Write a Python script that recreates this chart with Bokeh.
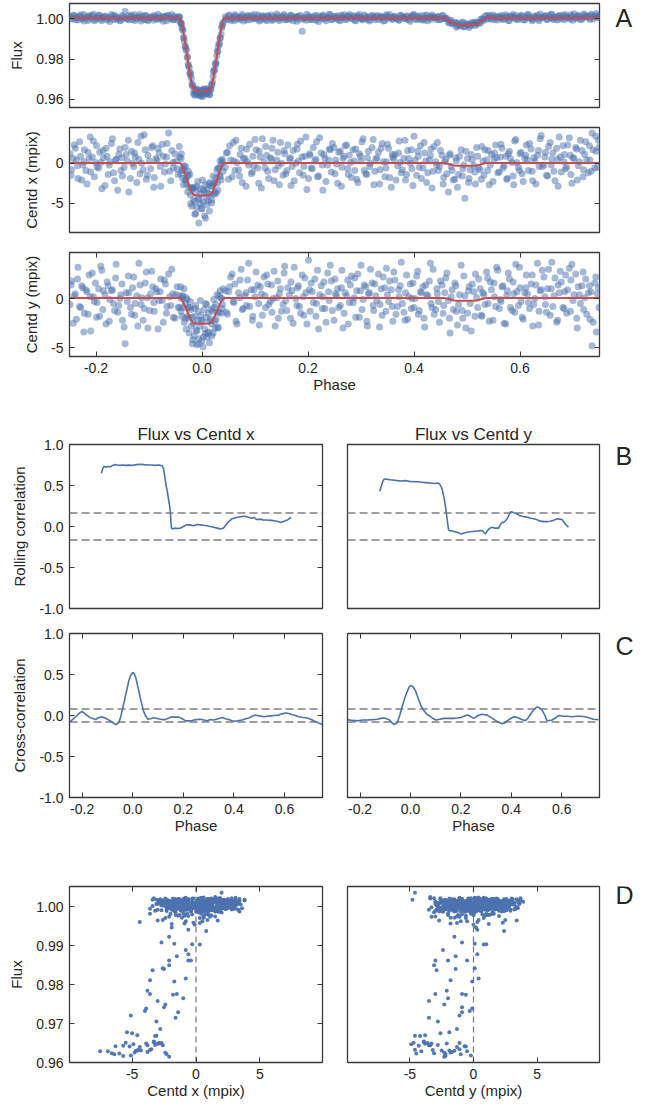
from bokeh.plotting import figure
from bokeh.models import LinearAxis, Range1d, FixedTicker, Span, Label, NumeralTickFormatter
from bokeh.layouts import column, row
from bokeh.embed import file_html
from bokeh.resources import INLINE

# ---------------- data: observations (phase, flux, centroid x, centroid y) ----------------
phase_pre = [-0.249, -0.246, -0.241, -0.237, -0.234, -0.229, -0.225, -0.222, -0.217, -0.213,
             -0.210, -0.205, -0.201, -0.198, -0.193, -0.189, -0.186, -0.181, -0.177, -0.174,
             -0.169, -0.165, -0.162, -0.157, -0.153, -0.150, -0.145, -0.141, -0.138, -0.133,
             -0.129, -0.126, -0.121, -0.117, -0.114, -0.109, -0.105, -0.102, -0.097, -0.093,
             -0.090, -0.085, -0.081, -0.078, -0.073, -0.069, -0.066, -0.061, -0.057, -0.054,
             -0.049, -0.045]
flux_pre = [1.0011, 0.9998, 1.0016, 1.0005, 0.9993, 1.0019, 1.0002, 0.9988, 1.0009, 1.0014,
            0.9999, 1.0022, 0.9996, 1.0007, 1.0015, 0.9990, 1.0004, 1.0010, 1.0001, 0.9986,
            1.0012, 1.0017, 0.9997, 1.0003, 0.9992, 1.0008, 1.0036, 1.0000, 0.9995, 1.0018,
            1.0006, 0.9991, 1.0010, 1.0020, 1.0001, 0.9996, 1.0013, 0.9989, 1.0007, 1.0003,
            1.0015, 0.9997, 1.0002, 1.0011, 0.9987, 1.0009, 1.0014, 1.0000, 1.0021, 0.9994,
            1.0005, 1.0008]
cx_pre = [1.2, -0.8, 2.3, 0.4, -1.9, 0.9, -0.2, 1.7, -2.6, 0.6,
          -1.1, 2.8, 0.1, -0.5, 1.4, -3.2, 0.7, 1.9, -1.4, 0.2,
          3.1, -2.2, 0.5, 1.1, -0.9, -1.6, 2.0, 0.3, -3.6, 1.5,
          -0.4, 0.8, 2.6, -1.3, 0.0, 3.6, -2.0, 1.0, -0.7, 2.2,
          -1.8, 0.4, 1.3, -2.9, 0.9, -0.1, 2.5, -1.0, 1.6, -0.6,
          0.3, -1.4]
cy_pre = [-0.6, 1.8, 0.3, -2.1, 3.2, -0.9, 1.1, -1.5, 0.7, 2.4,
          -3.3, 0.2, 1.6, -0.4, -1.8, 2.9, 0.8, -2.6, 1.3, -0.1,
          0.9, -1.2, 3.5, -0.7, 0.4, -2.2, -4.6, -0.3, 0.6, -1.6,
          2.2, -0.5, -2.8, 1.4, 0.1, -1.0, 2.7, -3.0, 0.5, 1.2,
          -1.3, 0.7, -0.2, 2.0, -2.4, 1.5, -0.8, 0.2, 3.0, -1.9,
          0.4, -0.9]

phase_pre2 = [-0.247, -0.243, -0.239, -0.235, -0.231, -0.227, -0.223, -0.219, -0.215, -0.211,
              -0.207, -0.203, -0.199, -0.195, -0.191, -0.187, -0.183, -0.179, -0.175, -0.171,
              -0.167, -0.163, -0.159, -0.155, -0.151, -0.147, -0.143, -0.139, -0.135, -0.131,
              -0.127, -0.123, -0.119, -0.115, -0.111, -0.107, -0.103, -0.099, -0.095, -0.091,
              -0.087, -0.083, -0.079, -0.075, -0.071, -0.067, -0.063, -0.059, -0.055, -0.051,
              -0.047, -0.043]
flux_pre2 = [1.0004, 1.0017, 0.9994, 1.0009, 1.0012, 0.9998, 1.0021, 1.0006, 0.9991, 1.0010,
             1.0015, 0.9989, 1.0003, 1.0018, 0.9997, 1.0008, 1.0013, 0.9993, 1.0006, 1.0020,
             0.9996, 1.0011, 1.0002, 0.9990, 1.0016, 1.0005, 0.9999, 1.0014, 1.0009, 0.9994,
             1.0019, 1.0001, 1.0007, 0.9988, 1.0012, 1.0017, 0.9995, 1.0004, 1.0010, 0.9992,
             1.0008, 1.0022, 0.9998, 1.0005, 1.0013, 0.9990, 1.0016, 1.0003, 0.9996, 1.0011,
             0.9993, 1.0007]
cx_pre2 = [-1.5, 0.6, 1.9, -0.3, 2.7, -2.1, 0.2, -0.9, 1.4, 3.3,
           0.8, -1.7, 2.2, -0.6, 0.1, 1.6, -2.8, 0.9, -0.2, 2.5,
           -1.2, 0.4, -3.4, 1.8, 0.7, -0.5, 1.1, 2.9, -1.9, 0.0,
           1.3, -2.4, 0.5, 3.4, -0.8, 1.7, -1.5, 0.3, 2.0, -3.0,
           0.6, 1.9, -0.4, 2.4, -1.1, 0.8, 3.8, -2.2, 0.1, 1.2,
           -0.7, 2.1]
cy_pre2 = [1.4, -2.5, 0.5, 2.0, -0.8, 1.3, -3.4, 0.9, -1.6, 0.2,
           2.6, -0.3, -1.9, 1.0, 3.3, -1.1, 0.4, 1.7, -2.3, 0.8,
           -0.5, 2.1, -1.4, 0.0, 1.5, -2.9, 0.6, 2.3, -0.9, 1.1,
           -1.7, 0.3, 3.6, -0.6, -2.2, 1.6, 0.1, -1.2, 2.8, -0.4,
           1.0, -3.1, 0.7, -0.2, 1.9, -1.5, 2.5, -0.7, 0.5, -2.0,
           1.2, 0.3]

phase_in = [-0.042, -0.040, -0.039, -0.038, -0.036, -0.035, -0.034, -0.032, -0.031, -0.030,
            -0.028, -0.027, -0.026, -0.024, -0.023, -0.022, -0.020, -0.019, -0.018, -0.016,
            -0.015, -0.014, -0.012, -0.011, -0.010, -0.008, -0.007, -0.006, -0.004, -0.003,
            -0.002, 0.000, 0.001, 0.002, 0.004, 0.005, 0.006, 0.008, 0.009, 0.010,
            0.012, 0.013, 0.014, 0.016, 0.017, 0.018, 0.020, 0.021, 0.022, 0.024,
            0.025, 0.026, 0.028, 0.029, 0.030, 0.032, 0.033, 0.034, 0.036, 0.037,
            0.038, 0.040]
flux_in = [1.0009, 0.9979, 0.9978, 0.9957, 0.9941, 0.9908, 0.9904, 0.9862, 0.9862, 0.9850,
           0.9808, 0.9811, 0.9776, 0.9758, 0.9729, 0.9732, 0.9705, 0.9678, 0.9669, 0.9631,
           0.9648, 0.9626, 0.9642, 0.9632, 0.9651, 0.9622, 0.9640, 0.9629, 0.9645, 0.9618,
           0.9627, 0.9643, 0.9615, 0.9647, 0.9634, 0.9624, 0.9650, 0.9631, 0.9641, 0.9654,
           0.9630, 0.9644, 0.9623, 0.9649, 0.9650, 0.9675, 0.9686, 0.9715, 0.9739, 0.9749,
           0.9776, 0.9774, 0.9816, 0.9840, 0.9837, 0.9878, 0.9873, 0.9903, 0.9923, 0.9954,
           0.9963, 0.9982]
cx_in = [0.8, -1.3, 1.2, -0.9, -0.6, -2.7, -0.3, -2.1, -0.4, -2.1,
         -1.7, -3.6, -1.5, -3.0, -1.4, -4.0, -3.1, -5.4, -3.1, -4.6,
         -3.0, -4.8, -6.3, -3.6, -5.5, -2.3, -4.4, -7.5, -3.2, -5.1,
         -3.8, -5.7, -2.1, -4.9, -3.5, -6.6, -2.7, -4.3, -5.2, -3.3,
         -4.7, -2.6, -6.0, -3.9, -2.9, -5.0, -2.8, -1.6, -3.9, -2.4,
         -3.6, -1.8, -0.8, -2.5, -3.4, -0.6, -1.5, 0.3, -2.1, -0.1,
         0.5, -1.0]
cy_in = [-0.9, 1.2, 0.0, -1.8, 0.3, -0.9, 1.0, -2.0, -0.5, -3.1,
         -0.1, -1.8, -0.9, -3.5, -0.9, -0.3, -2.8, -1.9, -4.6, -2.5,
         -3.8, -1.8, -0.7, -3.2, -4.7, -2.2, -1.3, -4.1, -2.8, -0.2,
         -1.7, -4.3, -2.3, -4.9, -1.1, -3.1, -3.6, -1.9, -0.6, -3.9,
         -1.5, -3.4, -4.5, -2.1, -1.1, -2.6, -1.3, -3.5, -0.1, -2.3,
         -3.0, -0.6, 0.4, -1.4, -2.9, 0.3, -1.4, 0.8, -1.5, 0.0,
         -1.0, 1.0]

phase_in2 = [-0.0395, -0.0365, -0.0335, -0.0295, -0.0255, -0.0215, -0.0175, -0.0135, -0.0095, -0.0055,
             -0.0015, 0.0025, 0.0065, 0.0105, 0.0145, 0.0185, 0.0225, 0.0265, 0.0305, 0.0345,
             0.0385]
flux_in2 = [0.9975, 0.9947, 0.9889, 0.9842, 0.9765, 0.9721, 0.9668, 0.9621, 0.9649, 0.9633,
            0.9617, 0.9652, 0.9629, 0.9644, 0.9625, 0.9670, 0.9742, 0.9784, 0.9862, 0.9905,
            0.9971]
cx_in2 = [0.6, -1.9, -0.8, -2.6, -1.0, -5.1, -3.2, -6.4, -2.9, -4.5,
          -5.7, -3.3, -6.9, -3.8, -2.4, -4.6, -2.5, -3.8, -0.6, -1.7,
          0.3]
cy_in2 = [-1.3, 0.2, -2.4, 0.1, -2.0, -1.1, -4.2, -1.0, -3.3, -4.6,
          -2.2, -3.9, -0.5, -3.5, -2.3, -3.8, -0.9, -2.1, -3.0, 0.1,
          -0.6]

phase_post = [0.044, 0.048, 0.052, 0.057, 0.060, 0.064, 0.069, 0.072, 0.076, 0.081,
              0.084, 0.088, 0.093, 0.096, 0.100, 0.105, 0.108, 0.112, 0.117, 0.120,
              0.124, 0.129, 0.132, 0.136, 0.141, 0.144, 0.148, 0.153, 0.156, 0.160,
              0.165, 0.168, 0.172, 0.177, 0.180, 0.184, 0.189, 0.192, 0.196, 0.201,
              0.204, 0.208, 0.213, 0.216, 0.220, 0.225, 0.228, 0.232, 0.237, 0.240,
              0.244, 0.249, 0.252, 0.256, 0.261, 0.264, 0.268, 0.273, 0.276, 0.280,
              0.285, 0.288, 0.292, 0.297, 0.300, 0.304, 0.309, 0.312, 0.316, 0.321,
              0.324, 0.328, 0.333, 0.336, 0.340, 0.345, 0.348, 0.352, 0.357, 0.360,
              0.364, 0.369, 0.372, 0.376, 0.381, 0.384, 0.388, 0.393, 0.396, 0.400,
              0.405, 0.408, 0.412, 0.417, 0.420, 0.424, 0.429, 0.432, 0.436, 0.441,
              0.444, 0.448, 0.453, 0.456, 0.460, 0.465, 0.468, 0.472, 0.477, 0.480,
              0.484, 0.489, 0.492, 0.496, 0.501, 0.504, 0.508, 0.513, 0.516, 0.520,
              0.525, 0.528, 0.532, 0.537, 0.540, 0.544, 0.549, 0.552, 0.556, 0.561,
              0.564, 0.568, 0.573, 0.576, 0.580, 0.585, 0.588, 0.592, 0.597, 0.600,
              0.604, 0.609, 0.612, 0.616, 0.621, 0.624, 0.628, 0.633, 0.636, 0.640,
              0.645, 0.648, 0.652, 0.657, 0.660, 0.664, 0.669, 0.672, 0.676, 0.681,
              0.684, 0.688, 0.693, 0.696, 0.700, 0.705, 0.708, 0.712, 0.717, 0.720,
              0.724, 0.729, 0.732, 0.736, 0.741, 0.744, 0.748]
flux_post = [1.0010, 0.9995, 1.0018, 1.0001, 0.9990, 1.0013, 1.0006, 0.9997, 1.0021, 1.0004,
             0.9993, 1.0009, 1.0015, 0.9999, 1.0002, 1.0019, 0.9988, 1.0007, 1.0012, 0.9996,
             1.0016, 1.0003, 0.9991, 1.0010, 1.0023, 0.9998, 1.0005, 1.0014, 0.9994, 1.0008,
             1.0001, 1.0017, 0.9989, 1.0006, 1.0011, 0.9997, 0.9938, 1.0003, 0.9992, 1.0013,
             1.0007, 0.9995, 1.0016, 1.0002, 0.9986, 1.0010, 1.0018, 0.9999, 1.0005, 1.0022,
             0.9994, 1.0009, 1.0001, 1.0014, 0.9990, 1.0006, 1.0019, 0.9997, 1.0011, 1.0003,
             1.0015, 0.9992, 1.0008, 1.0021, 1.0000, 0.9995, 1.0012, 1.0005, 0.9988, 1.0017,
             1.0004, 1.0010, 0.9996, 1.0013, 1.0007, 0.9991, 1.0019, 1.0002, 1.0008, 0.9998,
             1.0012, 1.0001, 0.9993, 1.0016, 1.0006, 0.9999, 1.0011, 0.9987, 1.0009, 1.0020,
             0.9995, 1.0007, 1.0014, 1.0000, 0.9992, 1.0018, 1.0005, 0.9997, 1.0010, 1.0003,
             1.0009, 0.9995, 1.0014, 1.0000, 1.0002, 0.9982, 0.9992, 0.9977, 0.9982, 0.9958,
             0.9977, 0.9965, 0.9983, 0.9961, 0.9972, 0.9956, 0.9974, 0.9980, 0.9966, 0.9981,
             0.9979, 0.9998, 0.9995, 1.0015, 0.9999, 1.0009, 1.0018, 0.9994, 1.0006, 1.0013,
             1.0002, 0.9996, 1.0019, 1.0008, 0.9990, 1.0011, 1.0004, 1.0016, 0.9998, 1.0007,
             1.0013, 0.9993, 1.0005, 1.0021, 1.0001, 0.9996, 1.0010, 1.0017, 0.9989, 1.0006,
             1.0009, 1.0015, 0.9997, 1.0003, 1.0022, 0.9994, 1.0008, 1.0012, 1.0000, 1.0018,
             0.9995, 1.0011, 1.0006, 1.0019, 0.9992, 1.0004, 1.0014, 1.0009, 0.9998, 1.0023,
             1.0007, 1.0013, 0.9996, 1.0018, 1.0010, 1.0025, 1.0005]
cx_post = [-0.5, 1.4, 2.2, -1.7, 0.3, 2.9, -0.8, 1.1, -2.4, 0.6,
           1.8, -0.2, -1.3, 0.9, 3.0, -0.6, 1.5, -3.1, 0.2, 2.1,
           -1.0, 0.7, 1.9, -2.2, 0.4, -0.3, 2.6, -1.5, 1.2, -0.9,
           0.5, -2.8, 1.6, 0.0, 2.4, -1.2, 0.8, -0.4, 3.3, -1.9,
           1.0, -0.7, 0.3, 2.7, -1.6, 1.3, -3.4, 0.6, -0.2, 1.8,
           -1.1, 2.0, 0.4, -2.5, 1.5, -0.5, 0.9, 2.3, -1.4, 0.1,
           1.7, -0.9, -2.0, 1.2, 0.3, 3.1, -1.3, 0.7, -0.4, 2.0,
           -2.7, 0.5, 1.4, -0.8, 2.5, -1.7, 0.2, 1.9, -3.0, 0.8,
           1.1, -0.3, 2.8, -1.2, 0.6, -2.1, 1.6, 0.0, -0.7, 3.4,
           -1.5, 0.9, 2.2, -0.6, 1.3, -2.4, 0.4, 1.8, -1.0, 0.2,
           2.6, -0.4, 1.0, -1.8, 0.5, -3.6, 1.2, -0.9, -2.0, 0.3,
           -1.4, 1.7, -0.7, -4.4, 0.6, -1.9, 1.1, -0.3, -2.6, 0.9,
           -0.8, 2.1, -1.5, 0.4, 1.6, -0.2, -2.3, 1.3, 0.7, -1.1,
           2.4, -0.6, 0.9, -1.9, 1.5, 0.1, -2.7, 3.0, -0.5, 1.2,
           -1.3, 0.6, 2.3, -0.9, 1.8, -2.2, 0.3, 1.0, -0.4, 3.5,
           -0.2, 1.4, -1.6, 2.6, 0.5, -1.0, 1.9, -2.9, 0.8, 2.2,
           1.1, -0.5, 3.2, -1.4, 0.7, 2.0, -2.1, 0.2, 1.6, -0.8,
           2.7, -1.2, 0.4, 3.8, -0.6, 1.5, 2.9]
cy_post = [0.8, -1.6, 1.2, 2.5, -0.4, -2.3, 0.6, 1.9, -1.1, 0.3,
           -0.7, 3.6, 0.9, -1.8, 0.2, 1.4, -2.7, 0.5, 2.2, -0.9,
           1.5, -0.3, -1.4, 2.8, 0.1, -2.0, 1.0, -0.6, 3.3, -1.2,
           0.4, 1.7, -2.5, 0.0, 1.1, -0.8, 2.4, -1.7, 0.6, 3.9,
           -1.3, 0.7, 2.0, -0.5, -3.1, 1.3, 0.2, -1.0, 2.6, -0.2,
           1.8, -2.2, 0.5, 1.0, -0.7, 2.9, -1.5, 0.3, -2.6, 1.4,
           -0.4, 2.1, 0.8, -1.9, 3.4, -0.1, 1.2, -2.8, 0.6, 1.6,
           -1.2, 0.3, 2.5, -0.6, -1.7, 1.1, 3.1, -0.3, 0.9, -2.3,
           1.9, -0.8, 0.2, 3.7, -1.4, 0.6, -2.1, 1.5, 0.0, -0.9,
           2.3, -1.6, 0.7, 1.2, -2.9, 0.4, 1.8, -0.5, 3.0, -1.1,
           0.5, -2.4, 1.4, -0.7, 2.1, -0.2, -3.5, 0.9, 1.6, -1.3,
           -0.6, 3.4, -2.0, 0.3, -1.5, 1.2, -3.3, 0.7, 2.5, -0.9,
           1.0, -1.8, 0.4, 2.7, -0.5, 1.7, -2.2, 0.2, 3.2, -1.0,
           -0.3, 1.3, -2.6, 0.8, 2.0, -1.2, 0.5, 3.5, -0.7, 1.1,
           -1.9, 0.6, 2.4, -0.4, 1.5, -2.8, 0.0, 3.6, -1.3, 0.9,
           2.2, -0.6, 1.0, -1.7, 3.7, 0.3, -2.4, 1.4, 2.8, -0.9,
           0.7, -1.5, 3.1, 1.9, -0.2, 2.5, -3.0, 0.4, 1.3, -1.1,
           2.0, 0.6, -2.1, -4.8, 1.6, -3.4, 1.1]

phase_post2 = [0.046, 0.050, 0.054, 0.059, 0.062, 0.066, 0.071, 0.074, 0.078, 0.083,
               0.086, 0.090, 0.095, 0.098, 0.102, 0.107, 0.110, 0.114, 0.119, 0.122,
               0.126, 0.131, 0.134, 0.138, 0.143, 0.146, 0.150, 0.155, 0.158, 0.162,
               0.167, 0.170, 0.174, 0.179, 0.182, 0.186, 0.191, 0.194, 0.198, 0.203,
               0.206, 0.210, 0.215, 0.218, 0.222, 0.227, 0.230, 0.234, 0.239, 0.242,
               0.246, 0.251, 0.254, 0.258, 0.263, 0.266, 0.270, 0.275, 0.278, 0.282,
               0.287, 0.290, 0.294, 0.299, 0.302, 0.306, 0.311, 0.314, 0.318, 0.323,
               0.326, 0.330, 0.335, 0.338, 0.342, 0.347, 0.350, 0.354, 0.359, 0.362,
               0.366, 0.371, 0.374, 0.378, 0.383, 0.386, 0.390, 0.395, 0.398, 0.402,
               0.407, 0.410, 0.414, 0.419, 0.422, 0.426, 0.431, 0.434, 0.438, 0.443,
               0.446, 0.450, 0.455, 0.458, 0.462, 0.467, 0.470, 0.474, 0.479, 0.482,
               0.486, 0.491, 0.494, 0.498, 0.503, 0.506, 0.510, 0.515, 0.518, 0.522,
               0.527, 0.530, 0.534, 0.539, 0.542, 0.546, 0.551, 0.554, 0.558, 0.563,
               0.566, 0.570, 0.575, 0.578, 0.582, 0.587, 0.590, 0.594, 0.599, 0.602,
               0.606, 0.611, 0.614, 0.618, 0.623, 0.626, 0.630, 0.635, 0.638, 0.642,
               0.647, 0.650, 0.654, 0.659, 0.662, 0.666, 0.671, 0.674, 0.678, 0.683,
               0.686, 0.690, 0.695, 0.698, 0.702, 0.707, 0.710, 0.714, 0.719, 0.722,
               0.726, 0.731, 0.734, 0.738, 0.743, 0.746, 0.749]
flux_post2 = [1.0001, 1.0014, 0.9992, 1.0008, 1.0019, 0.9997, 1.0005, 1.0012, 0.9988, 1.0010,
              1.0016, 0.9995, 1.0006, 1.0021, 0.9999, 1.0009, 0.9993, 1.0014, 1.0003, 0.9990,
              1.0011, 1.0018, 0.9996, 1.0004, 1.0013, 0.9991, 1.0007, 1.0020, 1.0000, 0.9994,
              1.0015, 1.0002, 1.0009, 0.9987, 1.0012, 1.0017, 0.9998, 1.0006, 1.0022, 0.9995,
              1.0003, 1.0010, 0.9992, 1.0016, 1.0005, 0.9999, 1.0013, 0.9989, 1.0008, 1.0019,
              0.9997, 1.0012, 1.0004, 0.9993, 1.0017, 1.0008, 0.9996, 1.0011, 1.0020, 1.0001,
              1.0009, 0.9990, 1.0014, 1.0005, 0.9998, 1.0018, 1.0002, 0.9994, 1.0012, 1.0007,
              0.9995, 1.0016, 1.0003, 1.0010, 0.9988, 1.0013, 1.0006, 1.0021, 0.9997, 1.0009,
              1.0004, 0.9992, 1.0017, 1.0008, 1.0000, 1.0014, 0.9995, 1.0010, 1.0019, 0.9999,
              1.0012, 1.0001, 0.9993, 1.0015, 1.0007, 0.9990, 1.0011, 1.0018, 1.0004, 0.9996,
              1.0011, 0.9997, 1.0015, 1.0001, 1.0001, 0.9979, 0.9990, 0.9974, 0.9980, 0.9965,
              0.9966, 0.9979, 0.9959, 0.9975, 0.9971, 0.9963, 0.9982, 0.9972, 0.9985, 0.9976,
              0.9998, 0.9989, 1.0013, 1.0000, 1.0017, 0.9997, 1.0005, 1.0012, 0.9993, 1.0007,
              1.0016, 0.9999, 1.0008, 0.9991, 1.0013, 1.0020, 1.0002, 0.9995, 1.0010, 1.0017,
              0.9994, 1.0009, 1.0019, 1.0004, 0.9989, 1.0012, 1.0007, 0.9998, 1.0023, 1.0006,
              1.0011, 0.9996, 1.0014, 1.0021, 1.0001, 1.0008, 0.9993, 1.0016, 1.0010, 1.0003,
              1.0019, 1.0006, 0.9997, 1.0012, 1.0024, 1.0001, 1.0015, 0.9995, 1.0009, 1.0018,
              1.0011, 1.0004, 1.0020, 0.9998, 1.0014, 1.0008, 1.0016]
cx_post2 = [1.3, -2.0, 0.4, 2.6, -0.9, 0.1, -1.6, 1.9, 0.6, -2.9,
            0.2, 2.4, -1.1, -0.3, 1.7, -2.5, 0.8, 3.1, -0.6, 1.0,
            -1.9, 0.5, 2.9, -0.8, 1.4, -2.7, 0.0, 1.6, -1.3, 2.3,
            0.7, -0.4, -2.2, 1.8, 0.3, 2.8, -1.5, 0.9, -3.3, 1.2,
            -0.6, 2.0, 0.5, -1.7, 3.2, -0.2, 1.1, -2.3, 0.4, 1.7,
            2.5, -1.3, -0.1, 1.4, -2.9, 0.6, 2.2, -0.7, 1.0, -1.8,
            0.3, 1.8, -2.4, 0.9, 2.7, -0.9, -1.4, 1.5, 0.0, 3.0,
            -1.0, 0.7, -2.6, 1.9, 0.2, -0.6, 2.4, -1.8, 1.1, 0.5,
            -2.1, 1.3, 0.1, -0.8, 2.9, -1.4, 0.6, 1.7, -2.8, 0.4,
            1.5, -0.5, -1.9, 2.6, 0.3, -1.2, 1.0, -3.1, 2.1, -0.2,
            -0.9, 1.6, -2.6, 0.2, -1.3, 1.0, -0.4, -2.1, 0.7, -3.0,
            0.9, -1.6, -0.2, 1.5, -2.4, -0.8, 0.4, -1.1, 2.0, -0.6,
            -2.0, 0.3, 1.7, -0.9, -2.7, 1.1, 0.5, 2.3, -1.2, 0.8,
            1.9, -0.3, -2.0, 1.2, 0.6, -1.6, 2.8, 0.1, -0.9, 1.4,
            -2.3, 1.0, 0.4, 2.5, -1.0, 0.7, -2.6, 1.6, 3.1, -0.4,
            0.8, -1.5, 2.1, -0.2, 1.3, -2.2, 0.5, 3.3, -1.1, 0.2,
            -0.7, 2.3, 1.0, -2.5, 0.6, 1.8, -0.3, 2.9, -1.7, 1.1,
            0.4, 2.2, -1.0, 1.7, 3.4, -0.5, 2.0]
cy_post2 = [-1.4, 0.7, 2.2, -0.3, 1.5, -2.6, 0.1, 3.0, -1.0, 0.6,
            1.9, -0.8, -2.2, 0.9, 2.7, -0.5, 1.2, -1.7, 0.3, 2.4,
            -0.6, 1.4, 0.0, -2.8, 1.8, 0.5, -1.3, 2.6, -0.2, 1.1,
            -2.0, 0.8, 3.2, -0.7, 1.3, -1.5, 0.2, 2.1, -2.6, 0.9,
            1.6, -0.4, -1.8, 2.9, 0.4, -1.0, 1.7, -2.4, 0.7, 3.4,
            -1.2, 2.0, 0.3, -0.9, 1.1, -3.0, 0.6, 1.9, -0.4, 2.3,
            0.1, -1.9, 2.5, 0.8, -1.1, 1.4, -2.3, 0.5, 3.0, -0.7,
            1.5, -0.2, -2.9, 1.0, 2.2, -1.3, 0.4, 1.8, -0.8, 2.7,
            -1.6, 0.9, 1.3, -0.5, -2.2, 2.4, 0.2, -1.0, 1.6, 0.0,
            2.8, -1.2, 0.6, -2.0, 1.4, 0.3, 3.6, -0.9, -1.6, 1.0,
            -0.3, 1.8, -1.5, 0.6, 2.6, -2.0, 0.2, -1.1, 1.3, -2.7,
            0.4, -1.2, 2.3, -3.0, 0.8, -0.5, 1.5, -1.8, 0.1, 2.0,
            -1.7, 0.6, -0.6, 2.1, -2.3, 0.9, 1.6, -0.8, 2.9, -0.1,
            1.2, -2.5, 0.3, 2.6, -0.9, 1.7, -1.4, 0.7, 3.2, -0.3,
            -2.1, 1.1, 0.5, -1.0, 2.4, -0.6, 1.4, -2.7, 0.8, 2.9,
            0.2, -1.4, 3.0, 1.0, -0.8, 2.1, -2.2, 0.6, 1.7, -1.0,
            2.4, 0.9, -1.3, 3.5, 0.4, -2.0, 1.2, -0.5, 2.7, 0.1,
            -1.6, 1.3, 0.7, -2.4, 2.2, 0.5, -0.9]

phase = phase_pre + phase_pre2 + phase_in + phase_in2 + phase_post + phase_post2
flux = flux_pre + flux_pre2 + flux_in + flux_in2 + flux_post + flux_post2
centd_x = cx_pre + cx_pre2 + cx_in + cx_in2 + cx_post + cx_post2
centd_y = cy_pre + cy_pre2 + cy_in + cy_in2 + cy_post + cy_post2

# ---------------- data: fitted model ----------------
model_phase = [-0.25, -0.042, -0.039, -0.036, -0.032, -0.028, -0.024, -0.020, -0.017, -0.013, -0.006,
               0.0, 0.006, 0.013, 0.017, 0.020, 0.024, 0.028, 0.032, 0.036, 0.039, 0.042,
               0.458, 0.464, 0.470, 0.476, 0.482, 0.512, 0.518, 0.524, 0.530, 0.536, 0.75]
model_flux = [1.0003, 1.0003, 0.9990, 0.9950, 0.9885, 0.9815, 0.9745, 0.9685, 0.9655, 0.9643, 0.9640,
              0.9640, 0.9640, 0.9643, 0.9655, 0.9685, 0.9745, 0.9815, 0.9885, 0.9950, 0.9990, 1.0003,
              1.0003, 0.9994, 0.9982, 0.9973, 0.9970, 0.9970, 0.9973, 0.9982, 0.9994, 1.0003, 1.0003]
model_cx = [0.05, 0.05, -0.10, -0.55, -1.30, -2.10, -2.90, -3.57, -3.90, -4.03, -4.05,
            -4.05, -4.05, -4.03, -3.90, -3.57, -2.90, -2.10, -1.30, -0.55, -0.10, 0.05,
            0.05, -0.05, -0.18, -0.28, -0.32, -0.32, -0.28, -0.18, -0.05, 0.05, 0.05]
model_cy = [0.05, 0.05, -0.04, -0.33, -0.81, -1.30, -1.80, -2.22, -2.44, -2.53, -2.55,
            -2.55, -2.55, -2.53, -2.44, -2.22, -1.80, -1.30, -0.81, -0.33, -0.04, 0.05,
            0.05, -0.02, -0.12, -0.19, -0.22, -0.22, -0.19, -0.12, -0.02, 0.05, 0.05]

# ---------------- data: rolling correlation ----------------
rollx_phase = [-0.124, -0.118, -0.114, -0.105, -0.096, -0.088, -0.079, -0.070, -0.061, -0.050,
               -0.040, -0.028, -0.016, -0.004, 0.004, 0.015, 0.031, 0.045, 0.060, 0.075,
               0.090, 0.100, 0.110, 0.117, 0.122, 0.126, 0.129, 0.133, 0.136, 0.139,
               0.142, 0.146, 0.149, 0.151, 0.153, 0.158, 0.165, 0.175, 0.189, 0.200,
               0.212, 0.228, 0.240, 0.255, 0.268, 0.280, 0.294, 0.305, 0.320, 0.335,
               0.347, 0.358, 0.366, 0.373, 0.380, 0.390, 0.399, 0.410, 0.420, 0.430,
               0.439, 0.450, 0.460, 0.470, 0.479, 0.490, 0.505, 0.515, 0.530, 0.545,
               0.560, 0.575, 0.584, 0.597, 0.605, 0.612, 0.620, 0.626]
rollx_value = [0.65, 0.71, 0.73, 0.725, 0.73, 0.728, 0.745, 0.755, 0.75, 0.745,
               0.75, 0.745, 0.748, 0.745, 0.75, 0.755, 0.76, 0.755, 0.75, 0.75,
               0.745, 0.75, 0.745, 0.74, 0.70, 0.62, 0.56, 0.48, 0.44, 0.38,
               0.32, 0.25, 0.155, 0.06, -0.02, -0.03, -0.02, -0.025, -0.02, 0.0,
               0.02, 0.02, 0.01, 0.025, 0.02, 0.015, 0.01, 0.0, -0.01, -0.02,
               -0.03, -0.02, 0.01, 0.04, 0.06, 0.09, 0.10, 0.11, 0.115, 0.12,
               0.125, 0.12, 0.11, 0.10, 0.11, 0.085, 0.09, 0.08, 0.08, 0.075,
               0.07, 0.06, 0.05, 0.06, 0.075, 0.08, 0.10, 0.11]
rolly_phase = [-0.122, -0.116, -0.110, -0.105, -0.098, -0.092, -0.080, -0.065, -0.052, -0.035,
               -0.020, -0.005, 0.014, 0.030, 0.045, 0.060, 0.080, 0.095, 0.109, 0.115,
               0.119, 0.124, 0.128, 0.132, 0.136, 0.139, 0.142, 0.145, 0.148, 0.151,
               0.155, 0.165, 0.172, 0.185, 0.200, 0.212, 0.225, 0.238, 0.250, 0.265,
               0.278, 0.284, 0.291, 0.298, 0.305, 0.315, 0.324, 0.335, 0.350, 0.356,
               0.364, 0.370, 0.377, 0.385, 0.392, 0.397, 0.405, 0.415, 0.423, 0.435,
               0.449, 0.462, 0.476, 0.490, 0.505, 0.515, 0.530, 0.545, 0.555, 0.568,
               0.581, 0.590, 0.601, 0.607, 0.614, 0.621, 0.627]
rolly_value = [0.43, 0.49, 0.55, 0.575, 0.58, 0.575, 0.57, 0.565, 0.56, 0.555,
               0.56, 0.55, 0.545, 0.545, 0.54, 0.535, 0.53, 0.525, 0.53, 0.52,
               0.50, 0.47, 0.42, 0.37, 0.30, 0.24, 0.17, 0.10, 0.03, -0.04,
               -0.05, -0.055, -0.06, -0.07, -0.09, -0.08, -0.07, -0.065, -0.06, -0.055,
               -0.05, -0.05, -0.07, -0.09, -0.05, -0.02, -0.01, -0.02, -0.02, 0.02,
               0.05, 0.05, 0.07, 0.10, 0.15, 0.18, 0.175, 0.16, 0.155, 0.13,
               0.12, 0.115, 0.10, 0.095, 0.08, 0.065, 0.06, 0.06, 0.065, 0.075,
               0.095, 0.09, 0.085, 0.06, 0.03, 0.01, -0.01]
roll_limit = 0.165

# ---------------- data: cross-correlation ----------------
crossx_phase = [-0.250, -0.235, -0.220, -0.208, -0.200, -0.188, -0.174, -0.160, -0.147, -0.138,
                -0.128, -0.118, -0.108, -0.098, -0.088, -0.078, -0.068, -0.060, -0.055, -0.048,
                -0.042, -0.035, -0.029, -0.022, -0.016, -0.008, 0.000, 0.006, 0.012, 0.018,
                0.024, 0.030, 0.037, 0.043, 0.050, 0.060, 0.070, 0.080, 0.090, 0.100,
                0.110, 0.120, 0.129, 0.142, 0.156, 0.170, 0.182, 0.196, 0.209, 0.222,
                0.235, 0.250, 0.268, 0.281, 0.294, 0.307, 0.320, 0.337, 0.354, 0.367,
                0.380, 0.393, 0.406, 0.420, 0.433, 0.446, 0.459, 0.472, 0.485, 0.500,
                0.518, 0.531, 0.545, 0.561, 0.577, 0.590, 0.604, 0.617, 0.630, 0.643,
                0.656, 0.673, 0.690, 0.703, 0.716, 0.733, 0.749]
crossx_value = [-0.085, -0.04, 0.0, 0.035, 0.05, 0.02, -0.015, -0.035, -0.05, -0.03,
                -0.02, -0.02, -0.03, -0.05, -0.065, -0.09, -0.11, -0.10, -0.085, -0.02,
                0.06, 0.15, 0.24, 0.33, 0.42, 0.49, 0.525, 0.51, 0.46, 0.38,
                0.30, 0.21, 0.12, 0.05, 0.0, -0.045, -0.04, -0.03, -0.03, -0.04,
                -0.045, -0.05, -0.05, -0.03, -0.015, -0.02, -0.02, -0.04, -0.065, -0.065,
                -0.06, -0.05, -0.045, -0.055, -0.065, -0.05, -0.055, -0.04, -0.025, -0.04,
                -0.05, -0.065, -0.07, -0.06, -0.055, -0.04, -0.03, -0.01, 0.005, -0.005,
                -0.015, -0.01, -0.005, 0.0, 0.005, 0.02, 0.03, 0.025, 0.01, 0.0,
                -0.015, -0.025, -0.03, -0.045, -0.065, -0.09, -0.11]
crossy_phase = [-0.250, -0.230, -0.210, -0.190, -0.171, -0.150, -0.131, -0.118, -0.105, -0.095,
                -0.085, -0.076, -0.066, -0.059, -0.052, -0.042, -0.032, -0.022, -0.012, -0.004,
                0.003, 0.011, 0.020, 0.027, 0.033, 0.043, 0.053, 0.063, 0.073, 0.086,
                0.100, 0.116, 0.132, 0.150, 0.172, 0.186, 0.199, 0.212, 0.225, 0.238,
                0.251, 0.268, 0.284, 0.294, 0.304, 0.317, 0.330, 0.347, 0.364, 0.374,
                0.383, 0.396, 0.410, 0.420, 0.429, 0.442, 0.456, 0.466, 0.476, 0.489,
                0.502, 0.512, 0.522, 0.532, 0.542, 0.552, 0.562, 0.575, 0.588, 0.604,
                0.621, 0.640, 0.660, 0.676, 0.693, 0.710, 0.726, 0.746]
crossy_value = [-0.05, -0.06, -0.065, -0.055, -0.055, -0.05, -0.045, -0.035, -0.03, -0.04,
                -0.05, -0.08, -0.11, -0.10, -0.085, 0.01, 0.12, 0.22, 0.30, 0.355,
                0.365, 0.345, 0.30, 0.24, 0.19, 0.11, 0.06, 0.02, 0.0, -0.03,
                -0.055, -0.045, -0.035, -0.035, -0.035, -0.03, -0.025, -0.01, 0.005, -0.01,
                -0.035, 0.0, 0.015, 0.01, 0.005, -0.02, -0.045, -0.08, -0.10, -0.09,
                -0.065, -0.04, -0.015, -0.02, -0.03, -0.05, -0.065, -0.03, 0.015, 0.07,
                0.105, 0.095, 0.065, 0.01, -0.065, -0.06, -0.055, -0.03, 0.0, -0.01,
                -0.01, -0.015, -0.01, -0.01, -0.015, -0.03, -0.045, -0.05]
cross_limit = 0.08

# ---------------- axis ticks ----------------
phase_ticks = [-0.2, 0.0, 0.2, 0.4, 0.6]
flux_ticks_a = [0.96, 0.98, 1.00]
flux_ticks_d = [0.96, 0.97, 0.98, 0.99, 1.00]
centd_ticks = [-5, 0]
centd_ticks_d = [-5, 0, 5]
corr_ticks = [-1.0, -0.5, 0.0, 0.5, 1.0]
panel_letters = ["A", "B", "C", "D"]

# ---------------- styling ----------------
FONT = "Liberation Sans"
BLUE = "#4C72B0"
RED = "#C44E52"
FRAME = "#3a3a3a"
TXT = "#262626"
GRAY = "#808080"


def base_fig(w, h, bl, br, bt, bb, xr, yr):
    p = figure(width=w, height=h, x_range=Range1d(*xr), y_range=Range1d(*yr),
               output_backend="svg", toolbar_location=None,
               x_axis_location=None, y_axis_location=None,
               min_border_left=bl, min_border_right=br,
               min_border_top=bt, min_border_bottom=bb)
    p.grid.visible = False
    p.outline_line_color = FRAME
    p.outline_line_width = 1.3
    p.background_fill_color = "white"
    p.border_fill_color = "white"
    return p


def add_axis(p, side, ticks, fmt=None, show_labels=True, label=None, label_standoff=6):
    ax = LinearAxis(ticker=FixedTicker(ticks=ticks, minor_ticks=[]))
    if fmt:
        ax.formatter = NumeralTickFormatter(format=fmt)
    ax.axis_line_color = None
    ax.major_tick_in = 5
    ax.major_tick_out = 0
    ax.major_tick_line_color = FRAME
    ax.major_tick_line_width = 1
    ax.minor_tick_line_color = None
    if show_labels:
        ax.major_label_text_font = FONT
        ax.major_label_text_font_size = "14px"
        ax.major_label_text_color = TXT
        ax.major_label_standoff = 6
    else:
        ax.major_label_text_font_size = "0px"
        ax.major_label_text_color = None
        ax.major_label_standoff = 0
    if label:
        ax.axis_label = label
        ax.axis_label_text_font = FONT
        ax.axis_label_text_font_size = "15px"
        ax.axis_label_text_font_style = "normal"
        ax.axis_label_text_color = TXT
        ax.axis_label_standoff = label_standoff
    p.add_layout(ax, side)
    return ax


def hline(p, yv):
    p.add_layout(Span(location=yv, dimension="width", line_color=GRAY,
                      line_dash="8 4", line_width=1.5, level="underlay"))


def letter_fig(text, h, frame_h, baseline_below_top):
    # narrow strip to the right of a row holding the panel letter; its frame is
    # aligned with the frames of the row's plots, so the range spans that frame
    p = figure(width=48, height=h, x_range=Range1d(0, 48), y_range=Range1d(0, frame_h),
               output_backend="svg", toolbar_location=None,
               x_axis_location=None, y_axis_location=None,
               min_border_left=0, min_border_right=0, min_border_top=0, min_border_bottom=0)
    p.grid.visible = False
    p.outline_line_color = None
    p.add_layout(Label(x=7, y=frame_h - baseline_below_top, text=text, text_font=FONT,
                       text_font_size="25px", text_color=TXT,
                       text_baseline="alphabetic", text_align="left"))
    return p


XR = (-0.25, 0.75)

# ---------------- panel A ----------------
pA1 = base_fig(608, 117, 69, 9, 3, 10, XR, (0.956, 1.0075))
pA1.scatter(phase, flux, size=7, fill_color=BLUE, fill_alpha=0.5, line_color=None)
pA1.line(model_phase, model_flux, line_color=RED, line_width=2)
add_axis(pA1, "left", flux_ticks_a, "0.00", label="Flux", label_standoff=8)
add_axis(pA1, "right", flux_ticks_a, show_labels=False)

pA2 = base_fig(608, 125, 69, 9, 10, 10, XR, (-8.7, 4.5))
pA2.scatter(phase, centd_x, size=7, fill_color=BLUE, fill_alpha=0.5, line_color=None)
pA2.line(model_phase, model_cx, line_color=RED, line_width=2)
add_axis(pA2, "left", centd_ticks, "0", label="Centd x (mpix)", label_standoff=8)
add_axis(pA2, "right", centd_ticks, show_labels=False)

pA3 = base_fig(608, 158, 69, 9, 10, 44, XR, (-5.9, 4.7))
pA3.scatter(phase, centd_y, size=7, fill_color=BLUE, fill_alpha=0.5, line_color=None)
pA3.line(model_phase, model_cy, line_color=RED, line_width=2)
add_axis(pA3, "left", centd_ticks, "0", label="Centd y (mpix)", label_standoff=8)
add_axis(pA3, "right", centd_ticks, show_labels=False)
add_axis(pA3, "below", phase_ticks, "0.0", label="Phase", label_standoff=0)
add_axis(pA3, "above", phase_ticks, show_labels=False)


# ---------------- panel B ----------------
def title_style(p, text):
    p.title.text = text
    p.title.align = "center"
    p.title.text_font = FONT
    p.title.text_font_size = "17px"
    p.title.text_font_style = "normal"
    p.title.text_color = TXT
    p.title.standoff = 1


pB1 = base_fig(324, 220, 69, 2, 44, 12, XR, (-1.0, 1.0))
title_style(pB1, "Flux vs Centd x")
hline(pB1, roll_limit)
hline(pB1, -roll_limit)
pB1.line(rollx_phase, rollx_value, line_color=BLUE, line_width=1.6)
add_axis(pB1, "left", corr_ticks, "0.0", label="Rolling correlation", label_standoff=8)
add_axis(pB1, "right", corr_ticks, show_labels=False)

pB2 = base_fig(284, 220, 23, 9, 44, 12, XR, (-1.0, 1.0))
title_style(pB2, "Flux vs Centd y")
hline(pB2, roll_limit)
hline(pB2, -roll_limit)
pB2.line(rolly_phase, rolly_value, line_color=BLUE, line_width=1.6)

# ---------------- panel C ----------------
pC1 = base_fig(324, 225, 69, 2, 13, 48, XR, (-1.0, 1.0))
hline(pC1, cross_limit)
hline(pC1, -cross_limit)
pC1.line(crossx_phase, crossx_value, line_color=BLUE, line_width=1.6)
add_axis(pC1, "left", corr_ticks, "0.0", label="Cross-correlation", label_standoff=8)
add_axis(pC1, "right", corr_ticks, show_labels=False)
add_axis(pC1, "below", phase_ticks, "0.0", label="Phase", label_standoff=0)
add_axis(pC1, "above", phase_ticks, show_labels=False)

pC2 = base_fig(284, 225, 23, 9, 13, 48, XR, (-1.0, 1.0))
hline(pC2, cross_limit)
hline(pC2, -cross_limit)
pC2.line(crossy_phase, crossy_value, line_color=BLUE, line_width=1.6)
add_axis(pC2, "below", phase_ticks, "0.0", label="Phase", label_standoff=0)
add_axis(pC2, "above", phase_ticks, show_labels=False)

# ---------------- panel D ----------------
DX = (-9.9, 9.9)
DY = (0.96, 1.0052)

pD1 = base_fig(324, 257, 69, 2, 41, 40, DX, DY)
pD1.add_layout(Span(location=0, dimension="height", line_color=GRAY, line_dash="6 4",
                    line_width=1.3, level="underlay"))
pD1.scatter(centd_x, flux, size=4, fill_color=BLUE, fill_alpha=0.95, line_color=None)
add_axis(pD1, "left", flux_ticks_d, "0.00", label="Flux", label_standoff=8)
add_axis(pD1, "right", flux_ticks_d, show_labels=False)
add_axis(pD1, "below", centd_ticks_d, "0", label="Centd x (mpix)", label_standoff=0)
add_axis(pD1, "above", centd_ticks_d, show_labels=False)

pD2 = base_fig(284, 257, 23, 9, 41, 40, DX, DY)
pD2.add_layout(Span(location=0, dimension="height", line_color=GRAY, line_dash="6 4",
                    line_width=1.3, level="underlay"))
pD2.scatter(centd_y, flux, size=4, fill_color=BLUE, fill_alpha=0.95, line_color=None)
add_axis(pD2, "below", centd_ticks_d, "0", label="Centd y (mpix)", label_standoff=0)
add_axis(pD2, "above", centd_ticks_d, show_labels=False)

layout = column(
    row(pA1, letter_fig(panel_letters[0], 117, 104, 14)),
    pA2,
    pA3,
    row(pB1, pB2, letter_fig(panel_letters[1], 220, 164, 11)),
    row(pC1, pC2, letter_fig(panel_letters[2], 225, 164, 12)),
    row(pD1, pD2, letter_fig(panel_letters[3], 257, 176, 8)),
)

open("out.html", "w").write(file_html(layout, INLINE))
